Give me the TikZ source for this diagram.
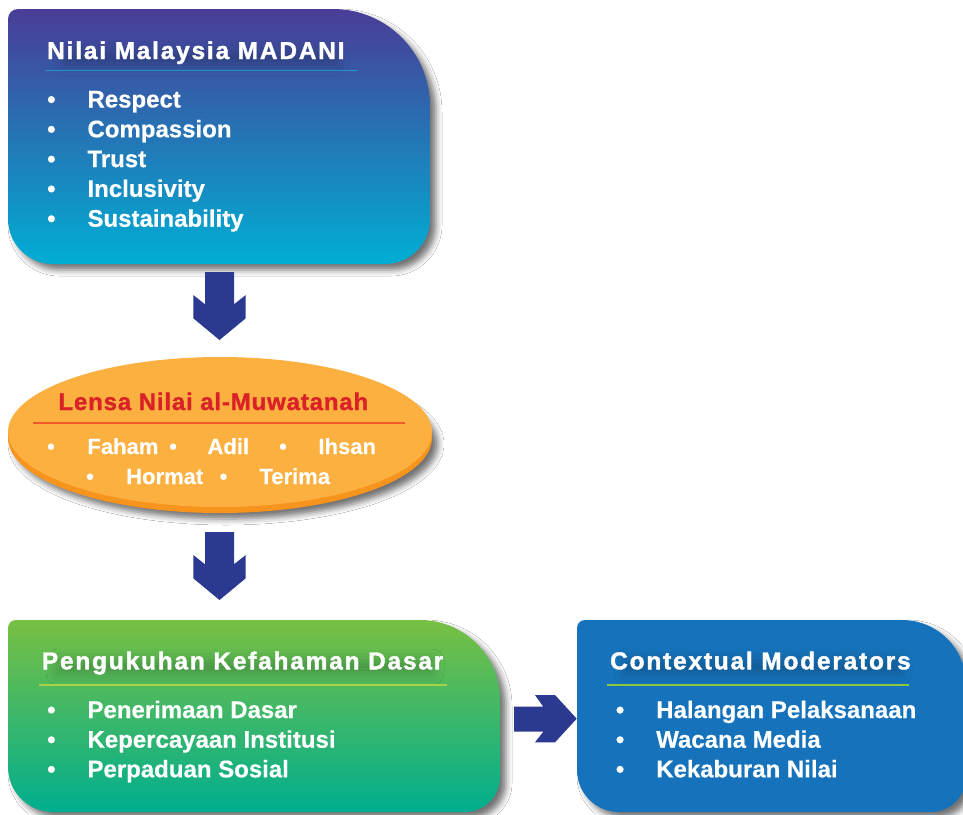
\documentclass[tikz,border=0pt]{standalone}
\usepackage{fontspec}
\setmainfont{Liberation Sans}
\newfontfamily\ttlfont[LetterSpace=7.5,FakeBold=1.6]{Liberation Sans}
\newfontfamily\lensfont[LetterSpace=3.5,FakeBold=1.2]{Liberation Sans}
\newfontfamily\itmfont[FakeBold=0.4]{Liberation Sans}
\usetikzlibrary{shadows.blur}
\definecolor{topA}{HTML}{4A3C97}
\definecolor{topB}{HTML}{1A7AB9}
\definecolor{topC}{HTML}{00AED4}
\definecolor{grnA}{HTML}{78C043}
\definecolor{grnB}{HTML}{3DB566}
\definecolor{grnC}{HTML}{00AE8F}
\definecolor{bluebox}{HTML}{1673BB}
\definecolor{orgL}{HTML}{FBB040}
\definecolor{orgD}{HTML}{F7941D}
\definecolor{lensred}{HTML}{DA2128}
\definecolor{lensline}{HTML}{F05A28}
\definecolor{topline}{HTML}{2294C6}
\definecolor{grnline}{HTML}{A9D046}
\definecolor{blueline}{HTML}{8DC63F}
\definecolor{arrowblue}{HTML}{2B3990}
\begin{document}
\begin{tikzpicture}[x=1pt,y=-1pt,
  boxshadow/.style={blur shadow={shadow xshift=6pt, shadow yshift=-6pt, shadow blur radius=6pt, shadow opacity=55}},
  textglow/.style={blur shadow={shadow xshift=2pt, shadow yshift=-4pt, shadow blur radius=12pt, shadow opacity=22}},
  ttl/.style={anchor=base west, inner sep=0pt, text=white, font=\ttlfont\bfseries\fontsize{24.4}{28}\selectfont},
  itm/.style={anchor=base west, inner sep=0pt, text=white, font=\itmfont\bfseries\fontsize{24}{28}\selectfont},
  eitm/.style={anchor=base west, inner sep=0pt, text=white, font=\itmfont\bfseries\fontsize{22}{26}\selectfont},
  blockarrow/.style={fill=arrowblue}]
\clip (0,0) rectangle (963,814);
\fill[white] (0,0) rectangle (963,814);

% ---------- top box ----------
\shade[boxshadow, top color=topA, middle color=topB, bottom color=topC]
  (8,19) arc[start angle=180, end angle=270, radius=10] -- (333,9)
  arc[start angle=270, end angle=360, radius=97] -- (430,219)
  arc[start angle=0, end angle=90, radius=45] -- (53,264)
  arc[start angle=90, end angle=180, radius=45] -- cycle;
\path[textglow] (62,48) rectangle (335,60);
\node[ttl] (t1) at (47,59) {Nilai Malaysia MADANI};
\draw[topline, line width=1pt] (46,70) -- (358,70);
\node[itm] (b11) at (47,107.5) {•};
\node[itm] (i11) at (87.3,107.5) {Respect};
\node[itm] (b12) at (47,137.3) {•};
\node[itm] (i12) at (87.3,137.3) {Compassion};
\node[itm] (b13) at (47,167.1) {•};
\node[itm] (i13) at (87.3,167.1) {Trust};
\node[itm] (b14) at (47,196.9) {•};
\node[itm] (i14) at (87.3,196.9) {Inclusivity};
\node[itm] (b15) at (47,226.7) {•};
\node[itm] (i15) at (87.3,226.7) {Sustainability};

% ---------- arrow 1 ----------
\fill[blockarrow] (205,272) -- (234,272) -- (234,304.3) -- (245.7,295) -- (245.7,318.3)
  -- (219.5,340) -- (193.3,318.3) -- (193.3,295) -- (205,304.3) -- cycle;

% ---------- ellipse ----------
\fill[orgD, boxshadow] (220,438) ellipse[x radius=212, y radius=75];
\fill[orgL] (220,432) ellipse[x radius=212, y radius=75];
\node[anchor=base west, inner sep=0pt, text=lensred, font=\lensfont\bfseries\fontsize{24}{28}\selectfont] (t2) at (58.3,410) {Lensa Nilai al-Muwatanah};
\draw[lensline, line width=2pt] (33,422.7) -- (405,422.7);
\node[eitm] (b21) at (47,454) {•};
\node[eitm] (i21) at (87.3,454) {Faham};
\node[eitm] (b22) at (169,454) {•};
\node[eitm] (i22) at (207.3,454) {Adil};
\node[eitm] (b23) at (279,454) {•};
\node[eitm] (i23) at (318.3,454) {Ihsan};
\node[eitm] (b24) at (86,484) {•};
\node[eitm] (i24) at (126,484) {Hormat};
\node[eitm] (b25) at (219.5,484) {•};
\node[eitm] (i25) at (259.3,484) {Terima};

% ---------- arrow 2 ----------
\fill[blockarrow] (205,532) -- (234,532) -- (234,564.3) -- (245.7,555) -- (245.7,578.3)
  -- (219.5,600) -- (193.3,578.3) -- (193.3,555) -- (205,564.3) -- cycle;

% ---------- green box ----------
\shade[boxshadow, top color=grnA, middle color=grnB, bottom color=grnC]
  (8,628) arc[start angle=180, end angle=270, radius=8] -- (420,620)
  arc[start angle=270, end angle=360, radius=80] -- (500,777)
  arc[start angle=0, end angle=90, radius=35] -- (53,812)
  arc[start angle=90, end angle=180, radius=45] -- cycle;
\path[textglow] (56,657) rectangle (430,669);
\node[ttl] (t3) at (41.7,669.3) {Pengukuhan Kefahaman Dasar};
\draw[grnline, line width=2pt] (39,684.5) -- (447,684.5);
\node[itm] (b31) at (47,718) {•};
\node[itm] (i31) at (87.3,718) {Penerimaan Dasar};
\node[itm] (b32) at (47,747.7) {•};
\node[itm] (i32) at (87.3,747.7) {Kepercayaan Institusi};
\node[itm] (b33) at (47,777.3) {•};
\node[itm] (i33) at (87.3,777.3) {Perpaduan Sosial};

% ---------- right arrow ----------
\fill[blockarrow] (514,706.7) -- (543.3,706.7) -- (535,695) -- (555,695) -- (576.7,718.7)
  -- (555,742.3) -- (535,742.3) -- (543.3,731.7) -- (514,731.7) -- cycle;

% ---------- blue box ----------
\fill[bluebox, boxshadow]
  (577,628) arc[start angle=180, end angle=270, radius=8] -- (902,620)
  arc[start angle=270, end angle=360, radius=64] -- (966,777)
  arc[start angle=0, end angle=90, radius=35] -- (619,812)
  arc[start angle=90, end angle=180, radius=42] -- cycle;
\path[textglow] (624,657) rectangle (898,669);
\node[ttl] (t4) at (610,669.3) {Contextual Moderators};
\draw[blueline, line width=2pt] (607.3,685) -- (909.3,685);
\node[itm] (b41) at (615.7,718) {•};
\node[itm] (i41) at (656,718) {Halangan Pelaksanaan};
\node[itm] (b42) at (615.7,747.7) {•};
\node[itm] (i42) at (656,747.7) {Wacana Media};
\node[itm] (b43) at (615.7,777.3) {•};
\node[itm] (i43) at (656,777.3) {Kekaburan Nilai};
\end{tikzpicture}
\end{document}
